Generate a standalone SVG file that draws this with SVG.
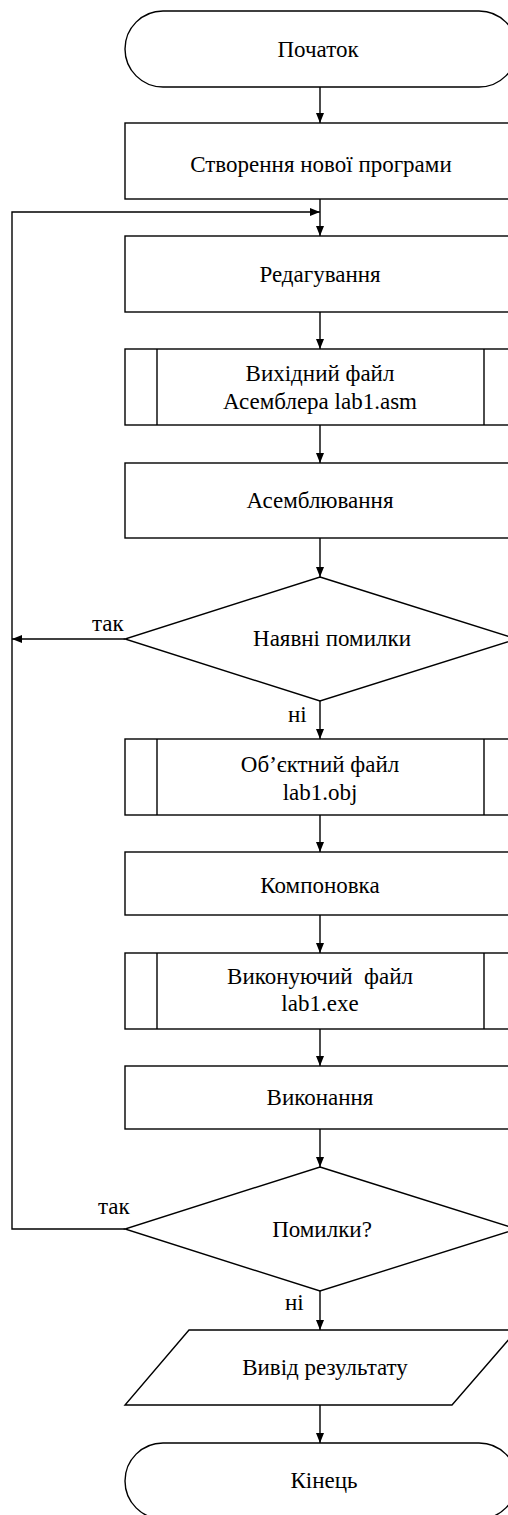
<svg xmlns="http://www.w3.org/2000/svg" width="508" height="1515" viewBox="0 0 508 1515">
<style>
.s{fill:#fff;stroke:#000;stroke-width:1.4}
.c{fill:none;stroke:#000;stroke-width:1.4}
text{font-family:'Liberation Serif','DejaVu Serif',serif;font-size:23px;fill:#000}
.t{text-anchor:middle;white-space:pre}
</style>
<defs>
<marker id="a" markerWidth="10" markerHeight="8" refX="10" refY="4" orient="auto" markerUnits="userSpaceOnUse">
<path d="M0,0 L10,4 L0,8 Z" fill="#000"/>
</marker>
</defs>
<rect width="508" height="1515" fill="#fff"/>
<g id="connectors">
<line class="c" x1="320" y1="87" x2="320" y2="123" marker-end="url(#a)"/>
<line class="c" x1="320" y1="199" x2="320" y2="236" marker-end="url(#a)"/>
<line class="c" x1="320" y1="312" x2="320" y2="349" marker-end="url(#a)"/>
<line class="c" x1="320" y1="425" x2="320" y2="463" marker-end="url(#a)"/>
<line class="c" x1="320" y1="538" x2="320" y2="577" marker-end="url(#a)"/>
<line class="c" x1="320" y1="701" x2="320" y2="739" marker-end="url(#a)"/>
<line class="c" x1="125" y1="639" x2="12" y2="639" marker-end="url(#a)"/>
<line class="c" x1="320" y1="815" x2="320" y2="852" marker-end="url(#a)"/>
<line class="c" x1="320" y1="915" x2="320" y2="953" marker-end="url(#a)"/>
<line class="c" x1="320" y1="1029" x2="320" y2="1066" marker-end="url(#a)"/>
<line class="c" x1="320" y1="1129" x2="320" y2="1167" marker-end="url(#a)"/>
<polyline class="c" points="125,1229 12,1229 12,212 320,212" marker-end="url(#a)"/>
<line class="c" x1="320" y1="1291" x2="320" y2="1330" marker-end="url(#a)"/>
<line class="c" x1="320" y1="1405" x2="320" y2="1443" marker-end="url(#a)"/>
<text x="92" y="631">так</text>
<text x="288" y="722">ні</text>
<text x="98" y="1214">так</text>
<text x="285" y="1310">ні</text>
</g>
<g id="start">
<rect class="s" x="125" y="11" width="392" height="76" rx="38" ry="38"/>
<text class="t" x="318" y="56.5">Початок</text>
</g>
<g id="create">
<rect class="s" x="125" y="123" width="392" height="76"/>
<text class="t" x="321" y="171.5">Створення нової програми</text>
</g>
<g id="edit">
<rect class="s" x="125" y="236" width="392" height="76"/>
<text class="t" x="320" y="282">Редагування</text>
</g>
<g id="srcfile">
<rect class="s" x="125" y="349" width="392" height="76"/>
<line class="c" x1="157" y1="349" x2="157" y2="425"/>
<line class="c" x1="484" y1="349" x2="484" y2="425"/>
<text class="t" x="320" y="381">Вихідний файл</text>
<text class="t" x="320" y="409">Асемблера lab1.asm</text>
</g>
<g id="assemble">
<rect class="s" x="125" y="463" width="392" height="75"/>
<text class="t" x="320" y="508">Асемблювання</text>
</g>
<g id="errors1">
<polygon class="s" points="320,577 517,639 320,701 125,639"/>
<text class="t" x="332" y="646">Наявні помилки</text>
</g>
<g id="objfile">
<rect class="s" x="125" y="739" width="392" height="76"/>
<line class="c" x1="157" y1="739" x2="157" y2="815"/>
<line class="c" x1="484" y1="739" x2="484" y2="815"/>
<text class="t" x="320" y="772">Об’єктний файл</text>
<text class="t" x="320" y="800">lab1.obj</text>
</g>
<g id="link">
<rect class="s" x="125" y="852" width="392" height="63"/>
<text class="t" x="320" y="893">Компоновка</text>
</g>
<g id="exefile">
<rect class="s" x="125" y="953" width="392" height="76"/>
<line class="c" x1="157" y1="953" x2="157" y2="1029"/>
<line class="c" x1="484" y1="953" x2="484" y2="1029"/>
<text class="t" x="320" y="984">Виконуючий  файл</text>
<text class="t" x="320" y="1011">lab1.exe</text>
</g>
<g id="run">
<rect class="s" x="125" y="1066" width="392" height="63"/>
<text class="t" x="320" y="1105">Виконання</text>
</g>
<g id="errors2">
<polygon class="s" points="320,1167 517,1229 320,1291 125,1229"/>
<text class="t" x="322" y="1237">Помилки?</text>
</g>
<g id="output">
<polygon class="s" points="189,1330 517,1330 452,1405 125,1405"/>
<text class="t" x="325" y="1375">Вивід результату</text>
</g>
<g id="end">
<rect class="s" x="125" y="1443" width="392" height="76" rx="38" ry="38"/>
<text class="t" x="324" y="1488">Кінець</text>
</g>
</svg>
